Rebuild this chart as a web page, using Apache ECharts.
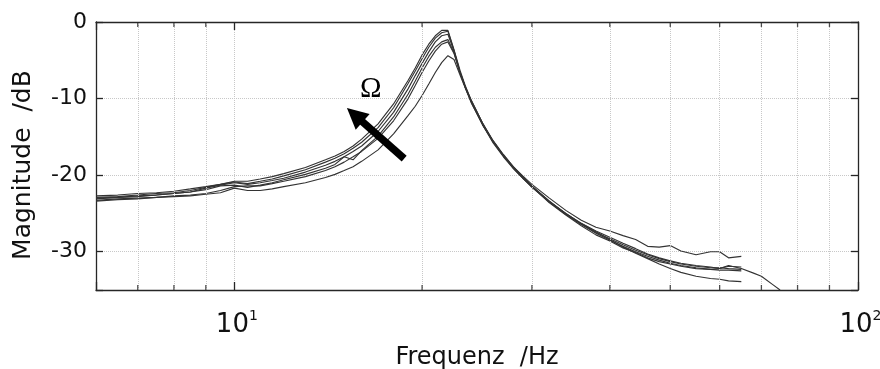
<!DOCTYPE html>
<html><head><meta charset="utf-8">
<script src="https://cdn.jsdelivr.net/npm/echarts@6/dist/echarts.min.js"></script>
<style>html,body{margin:0;padding:0;background:#fff}#c{width:880px;height:369px}</style>
</head><body><div id="c"></div><script>
// ---- data (Hz, dB) ----
const freqs = [6, 6.5, 7, 7.5, 8, 8.5, 9, 9.5, 10, 10.5,
  11, 11.5, 12, 13, 14, 14.5, 15, 15.5, 16, 17,
  18, 19, 19.5, 20, 20.5, 21, 21.5, 22, 22.5, 23,
  23.5, 24, 25, 26, 27, 28, 29, 30, 32, 34,
  36, 38, 40, 42, 44, 46, 48, 50, 52, 55,
  58, 60, 62, 65, 68, 70, 73, 75];
const curve1 = [-22.7, -22.6, -22.4, -22.3, -22.1, -21.8, -21.5, -21.2, -20.8, -20.8,
  -20.5, -20.2, -19.8, -19.0, -18.0, -17.5, -16.9, -16.2, -15.3, -13.3,
  -10.7, -7.6, -6.0, -4.3, -2.9, -1.8, -1.1, -1.1, -3.6, -6.3,
  -8.5, -10.3, -13.2, -15.5, -17.3, -18.9, -20.2, -21.4, -23.4, -25.0,
  -26.3, -27.4, -28.4, -29.4, -30.2, -30.9, -31.6, -32.2, -32.7, -33.2,
  -33.5, -33.6, -33.8, -33.9, null, null, null, null];
const curve2 = [-22.9, -22.8, -22.6, -22.4, -22.3, -22.0, -21.6, -21.2, -20.9, -21.1,
  -20.8, -20.5, -20.1, -19.3, -18.3, -17.8, -17.2, -16.5, -15.7, -13.8,
  -11.2, -8.0, -6.4, -4.8, -3.3, -2.1, -1.4, -1.2, -3.7, -6.5,
  -8.7, -10.4, -13.3, -15.7, -17.5, -19.0, -20.3, -21.5, -23.5, -25.1,
  -26.4, -27.5, -28.3, -29.1, -29.8, -30.4, -30.9, -31.3, -31.6, -31.9,
  -32.1, -32.1, -32.2, -32.3, null, null, null, null];
const curve3 = [-23.1, -22.9, -22.7, -22.6, -22.4, -22.2, -21.7, -21.3, -21.0, -21.2,
  -21.0, -20.7, -20.4, -19.6, -18.7, -18.2, -17.6, -16.9, -16.2, -14.3,
  -11.8, -8.7, -7.0, -5.4, -3.9, -2.6, -1.8, -1.6, -3.8, -6.6,
  -8.7, -10.5, -13.4, -15.6, -17.4, -19.1, -20.4, -21.6, -23.5, -25.0,
  -26.3, -27.3, -28.1, -28.9, -29.6, -30.3, -30.8, -31.2, -31.5, -31.8,
  -32.0, -32.2, -31.8, -32.2, -32.8, -33.2, -34.3, -35.0];
const curve4 = [-23.0, -22.9, -22.8, -22.6, -22.4, -22.2, -21.9, -21.4, -21.3, -21.6,
  -21.3, -21.0, -20.6, -19.9, -19.1, -18.6, -17.6, -18.0, -16.8, -14.9,
  -12.4, -9.4, -7.7, -6.0, -4.5, -3.3, -2.6, -2.3, -4.0, -6.6,
  -8.6, -10.3, -13.2, -15.6, -17.5, -19.0, -20.3, -21.5, -23.4, -25.1,
  -26.4, -27.6, -28.5, -29.3, -30.0, -30.6, -31.1, -31.5, -31.8, -32.1,
  -32.3, -32.4, -32.4, -32.5, null, null, null, null];
const curve5 = [-23.3, -23.1, -23.0, -22.9, -22.7, -22.6, -22.4, -22.0, -21.5, -21.4,
  -21.4, -21.1, -20.8, -20.2, -19.4, -18.9, -18.3, -17.6, -16.9, -15.2,
  -12.9, -10.0, -8.3, -6.6, -5.1, -3.8, -2.9, -2.6, -4.1, -6.6,
  -8.7, -10.5, -13.4, -15.8, -17.6, -19.1, -20.4, -21.5, -23.6, -25.2,
  -26.6, -27.8, -28.6, -29.5, -30.1, -30.8, -31.3, -31.6, -31.9, -32.2,
  -32.3, -32.2, -31.9, -32.0, null, null, null, null];
const curve6 = [-23.4, -23.2, -23.1, -22.9, -22.8, -22.7, -22.5, -22.3, -21.7, -22.0,
  -22.0, -21.8, -21.5, -21.0, -20.3, -19.9, -19.4, -18.9, -18.2, -16.7,
  -14.6, -12.2, -11.0, -9.6, -8.1, -6.6, -5.3, -4.4, -4.9, -6.9,
  -8.8, -10.6, -13.4, -15.6, -17.4, -18.9, -20.1, -21.2, -23.0, -24.6,
  -25.9, -26.8, -27.3, -27.9, -28.4, -29.3, -29.4, -29.2, -29.9, -30.4,
  -30.0, -30.0, -30.8, -30.6, null, null, null, null];
const curves = [curve1, curve2, curve3, curve4, curve5, curve6];

const xMajorTicks = [10, 100];
const xMinorTicks = [7, 8, 9, 20, 30, 40, 50, 60, 70, 80, 90];
const xName = 'Frequenz  /Hz';
const yName = 'Magnitude  /dB';
const omegaText = 'Ω';
const omegaAt = [16.55, -8.8];
const arrowFrom = [18.72, -17.85];
const arrowTo = [15.6, -12.15];

// ---- chart ----
const FONT = 'DejaVu Sans';
const INK = '#111';
const AX = '#262626';
const GRID = '#c8c8c8';
const pairs = vals => freqs.map((f, i) => [f, vals[i]]).filter(p => p[1] != null);

const series = curves.map((vals, i) => ({
  type: 'line', data: pairs(vals), symbol: 'none', showSymbol: false,
  lineStyle: { color: '#333', width: 1.15 }, z: 3, silent: true, animation: false
}));

series.push({
  type: 'line', data: [], silent: true, z: 1, animation: false,
  markLine: {
    silent: true, symbol: ['none', 'none'], label: { show: false },
    lineStyle: { type: 'dotted', color: GRID, width: 1 },
    data: xMinorTicks.map(f => ({ xAxis: f })), animation: false
  }
});
series.push({
  type: 'scatter', data: xMinorTicks.map(f => [f, -35]), symbol: 'rect',
  symbolSize: [1.3, 5], symbolOffset: [0, -2.5], itemStyle: { color: AX },
  silent: true, z: 6, clip: false, animation: false
});
series.push({
  type: 'scatter', data: xMinorTicks.map(f => [f, 0]), symbol: 'rect',
  symbolSize: [1.3, 5], symbolOffset: [0, 2.5], itemStyle: { color: AX },
  silent: true, z: 6, clip: false, animation: false
});
series.push({
  type: 'line', data: [], silent: true, z: 8, animation: false,
  markLine: {
    silent: true, symbol: ['none', 'triangle'], symbolSize: 21,
    label: { show: false },
    lineStyle: { type: 'solid', color: '#000', width: 7.5, cap: 'butt' },
    itemStyle: { color: '#000' },
    data: [[{ coord: arrowFrom }, { coord: arrowTo }]], animation: false
  },
  markPoint: {
    silent: true, symbol: 'circle', symbolSize: 1, itemStyle: { color: 'rgba(0,0,0,0)' },
    label: { show: true, position: 'inside', formatter: omegaText,
      fontFamily: 'Liberation Serif', fontSize: 29, color: '#000' },
    data: [{ coord: omegaAt }], animation: false
  }
});

const isPow = v => xMajorTicks.some(t => Math.abs(v - t) / t < 1e-6);
const expOf = v => Math.round(Math.log10(v));

const option = {
  animation: false,
  backgroundColor: '#fff',
  grid: { left: 96, right: 22, top: 22, bottom: 79, outerBoundsMode: 'none', containLabel: false },
  xAxis: [{
    type: 'log', logBase: 10, min: 6, max: 100, position: 'bottom',
    axisLine: { show: true, onZero: false, lineStyle: { color: AX, width: 1.3 } },
    axisTick: { show: true, inside: true, length: 8, lineStyle: { color: AX, width: 1.3 } },
    minorTick: { show: false },
    splitLine: { show: true, lineStyle: { type: 'dotted', color: GRID, width: 1 } },
    axisLabel: {
      margin: 20, color: INK, padding: [0, 0, 0, 5],
      formatter: v => isPow(v) ? '{b|10}{s|' + expOf(v) + '}' : '',
      rich: {
        b: { fontFamily: FONT, fontSize: 26, color: INK, lineHeight: 30 },
        s: { fontFamily: FONT, fontSize: 14, color: INK, lineHeight: 30, padding: [0, 0, 17, 0] }
      }
    },
    name: xName, nameLocation: 'middle', nameGap: 55,
    nameTextStyle: { fontFamily: FONT, fontSize: 24, color: INK }
  }, {
    type: 'log', logBase: 10, min: 6, max: 100, position: 'top',
    axisLine: { show: true, onZero: false, lineStyle: { color: AX, width: 1.3 } },
    axisTick: { show: true, inside: true, length: 8, lineStyle: { color: AX, width: 1.3 } },
    axisLabel: { show: false }, splitLine: { show: false }
  }],
  yAxis: [{
    type: 'value', min: -35, max: 0, position: 'left', splitNumber: 4,
    axisLine: { show: true, onZero: false, lineStyle: { color: AX, width: 1.3 } },
    axisTick: { show: true, inside: true, length: 7, lineStyle: { color: AX, width: 1.3 } },
    splitLine: { show: true, lineStyle: { type: 'dotted', color: GRID, width: 1 } },
    axisLabel: {
      margin: 9, color: INK, fontFamily: FONT, fontSize: 22,
      formatter: v => (v === -35 ? '' : String(v))
    },
    name: yName, nameLocation: 'middle', nameGap: 60, nameRotate: 90,
    nameTextStyle: { fontFamily: FONT, fontSize: 25, color: INK, padding: [0, 18, 0, 0] }
  }, {
    type: 'value', min: -35, max: 0, position: 'right', splitNumber: 4,
    axisLine: { show: true, onZero: false, lineStyle: { color: AX, width: 1.3 } },
    axisTick: { show: true, inside: true, length: 7, lineStyle: { color: AX, width: 1.3 } },
    axisLabel: { show: false }, splitLine: { show: false }
  }],
  series: series
};
const chart = echarts.init(document.getElementById('c'));
chart.setOption(option);
</script></body></html>
